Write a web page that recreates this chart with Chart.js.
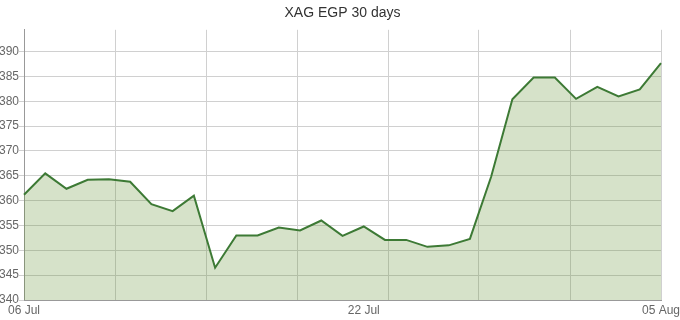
<!DOCTYPE html>
<html>
<head>
<meta charset="utf-8">
<script src="https://cdn.jsdelivr.net/npm/chart.js@4/dist/chart.umd.min.js"></script>
<style>
  html, body { margin: 0; padding: 0; background: #fff; }
  #wrap { width: 680px; height: 320px; }
</style>
</head>
<body>
<div id="wrap"><canvas id="chart"></canvas></div>
<script>
// 06 Jul .. 05 Aug, one point per day
const dates = [
  '06 Jul', '07 Jul', '08 Jul', '09 Jul', '10 Jul', '11 Jul', '12 Jul', '13 Jul',
  '14 Jul', '15 Jul', '16 Jul', '17 Jul', '18 Jul', '19 Jul', '20 Jul', '21 Jul',
  '22 Jul', '23 Jul', '24 Jul', '25 Jul', '26 Jul', '27 Jul', '28 Jul', '29 Jul',
  '30 Jul', '31 Jul', '01 Aug', '02 Aug', '03 Aug', '04 Aug', '05 Aug'
];
const prices = [
  361.2, 365.5, 362.4, 364.2, 364.3, 363.8, 359.3, 357.9,
  361.0, 346.5, 353.0, 353.0, 354.6, 354.0, 356.0, 352.9,
  354.8, 352.1, 352.1, 350.7, 351.0, 352.3, 364.8, 380.4,
  384.8, 384.8, 380.5, 382.9, 381.0, 382.4, 387.7
];
const shownLabels = ['06 Jul', '22 Jul', '05 Aug'];
const yMin = 340;
const yMax = 394.4;
const yStep = 5;
const gridDivisions = 7;

const tickFont = { family: 'Liberation Sans, Arial, sans-serif', size: 12 };

new Chart(document.getElementById('chart'), {
  type: 'line',
  data: {
    labels: dates,
    datasets: [{
      data: prices,
      borderColor: '#3d7a35',
      borderWidth: 2,
      backgroundColor: 'rgba(90,140,40,0.25)',
      fill: 'start',
      pointRadius: 0,
      tension: 0
    }]
  },
  options: {
    responsive: true,
    maintainAspectRatio: false,
    animation: false,
    layout: { autoPadding: false, padding: { left: 0, right: 19, top: 0, bottom: 0 } },
    plugins: {
      legend: { display: false },
      tooltip: { enabled: false },
      title: {
        display: true,
        fullSize: false, // centre over the plot area, not the canvas
        text: 'XAG EGP 30 days',
        color: '#333',
        font: { family: 'Liberation Sans, Arial, sans-serif', size: 14, weight: 'normal' },
        padding: { top: 5, bottom: 8 }
      }
    },
    scales: {
      x: {
        type: 'category',
        offset: false,
        grid: { display: false, drawTicks: false },
        border: { color: '#999' },
        ticks: {
          autoSkip: false,
          maxRotation: 0,
          color: '#666',
          font: tickFont,
          padding: 3,
          callback: function (v) {
            const lab = this.getLabelForValue(v);
            return shownLabels.includes(lab) ? lab : null;
          }
        },
        // labels may hang over the edges; don't shrink the plot for them
        afterFit: s => { s.height = 20; s.paddingLeft = 0; s.paddingRight = 0; }
      },
      xg: {
        type: 'linear',
        position: 'bottom',
        min: 0,
        max: dates.length - 1,
        afterBuildTicks: s => {
          const t = [];
          for (let i = 0; i <= gridDivisions; i++) t.push({ value: i * (dates.length - 1) / gridDivisions });
          s.ticks = t;
        },
        grid: { color: '#d0d0d0', drawTicks: false },
        border: { display: false },
        ticks: { display: false },
        afterFit: s => { s.height = 0; s.paddingLeft = 0; s.paddingRight = 0; }
      },
      y: {
        min: yMin,
        max: yMax,
        border: { color: '#999' },
        grid: { color: '#d0d0d0', tickLength: 5 },
        ticks: {
          stepSize: yStep,
          includeBounds: false,
          color: '#666',
          font: tickFont,
          padding: 0
        },
        afterFit: s => { s.width = 24; s.paddingTop = 0; s.paddingBottom = 0; }
      }
    }
  }
});
</script>
</body>
</html>
